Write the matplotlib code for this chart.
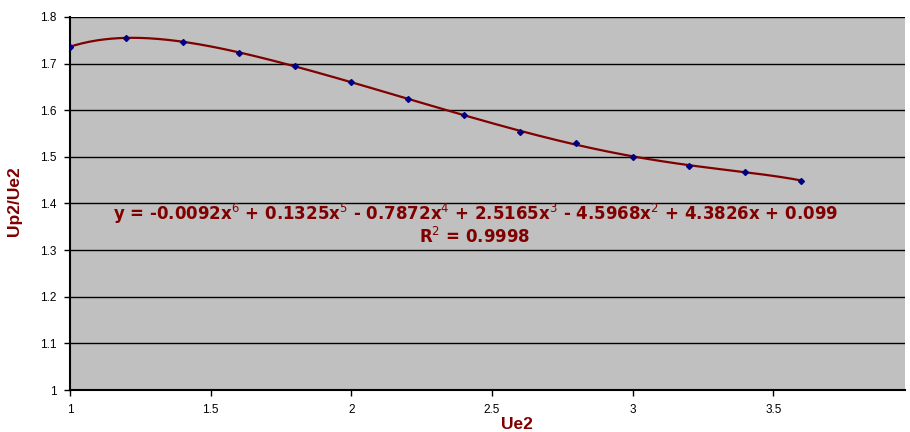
import numpy as np
import matplotlib
matplotlib.use("Agg")
import matplotlib.pyplot as plt

plt.rcParams['font.family'] = ['Liberation Sans', 'DejaVu Sans']

# measured points
ue2 = [1.0, 1.2, 1.4, 1.6, 1.8, 2.0, 2.2, 2.4, 2.6, 2.8, 3.0, 3.2, 3.4, 3.6]
ratio = [1.736, 1.755, 1.747, 1.723, 1.694, 1.661, 1.624, 1.589, 1.554, 1.529,
         1.500, 1.481, 1.468, 1.449]

eq_text = ('y = -0.0092x$^{6}$ + 0.1325x$^{5}$ - 0.7872x$^{4}$ + 2.5165x$^{3}$ '
           '- 4.5968x$^{2}$ + 4.3826x + 0.099')
r2_text = 'R$^{2}$ = 0.9998'

dred = '#800000'

fig = plt.figure(figsize=(9.1, 4.32), dpi=100)
ax = fig.add_axes([0.077, 0.097, 0.918, 0.864])
ax.set_facecolor('#C0C0C0')

# 6th order trend line (like the spreadsheet trendline)
coef = np.polyfit(ue2, ratio, 6)
xs = np.linspace(ue2[0], ue2[-1], 300)
ax.plot(xs, np.polyval(coef, xs), color=dred, lw=1.6, zorder=3)
ax.plot(ue2, ratio, linestyle='none', marker='D', ms=3, color='#000080', zorder=4)

ax.set_xlim(1, 3.97)
ax.set_ylim(1, 1.8)
ax.set_xticks([1, 1.5, 2, 2.5, 3, 3.5])
ax.set_xticklabels(['1', '1.5', '2', '2.5', '3', '3.5'])
ax.set_yticks(np.arange(1, 1.81, 0.1))
ax.set_yticklabels(['1', '1.1', '1.2', '1.3', '1.4', '1.5', '1.6', '1.7', '1.8'])
ax.yaxis.grid(True, color='black', lw=1)
ax.set_axisbelow(True)
for s in ['top', 'right']:
    ax.spines[s].set_visible(False)
ax.spines['left'].set_linewidth(1.5)
ax.spines['bottom'].set_linewidth(1.5)
ax.tick_params(labelsize=8.5, length=4, width=1, direction='out', pad=6)

ax.set_ylabel('Up2/Ue2', color=dred, fontsize=12.5, fontweight='bold')
ax.yaxis.set_label_coords(-0.057, 0.505)
ax.set_xlabel('Ue2', color=dred, fontsize=12.5, fontweight='bold')
ax.xaxis.set_label_coords(0.535, -0.072)

ax.text(0.485, 0.472, eq_text, transform=ax.transAxes, ha='center', va='center',
        color=dred, fontsize=12, fontweight='bold', family='DejaVu Sans')
ax.text(0.485, 0.41, r2_text, transform=ax.transAxes, ha='center', va='center',
        color=dred, fontsize=12, fontweight='bold', family='DejaVu Sans')

fig.savefig('out.png', dpi=100)
